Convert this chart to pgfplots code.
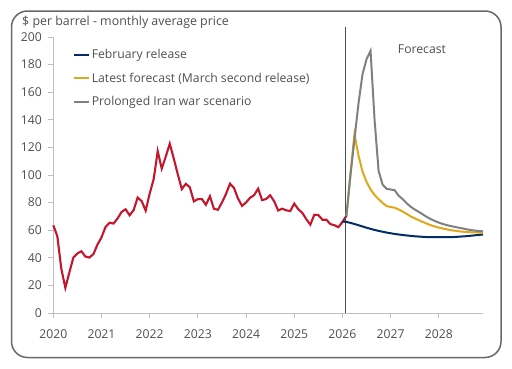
\documentclass[border=0pt]{standalone}
\usepackage{pgfplots}
\pgfplotsset{compat=1.18}
\usepackage{fontspec}
\setmainfont{Open Sans}
\definecolor{histred}{RGB}{196,22,44}
\definecolor{febblue}{RGB}{0,46,100}
\definecolor{lateyellow}{RGB}{222,168,24}
\definecolor{scengray}{RGB}{128,128,128}
\definecolor{txtgray}{RGB}{80,80,80}
\definecolor{axgray}{RGB}{191,191,191}
\definecolor{framegray}{RGB}{105,105,105}
\definecolor{vlinec}{RGB}{70,78,88}
\begin{document}
\begin{tikzpicture}[x=1pt,y=1pt]
\fill[white] (0,0) rectangle (512,368);
\draw[framegray, line width=1.5pt, rounded corners=16pt] (11.5,10.5) rectangle (501,357);
\node[anchor=west, font=\fontsize{12.4}{14}\selectfont, text=txtgray, inner sep=0pt] at (22,346) {\$ per barrel - monthly average price};
\begin{axis}[
  at={(53.3pt,55pt)}, anchor=south west, scale only axis,
  width=429.7pt, height=276pt,
  xmin=0, xmax=107, ymin=0, ymax=200,
  xtick={0,12,...,96},
  xticklabels={2020,2021,2022,2023,2024,2025,2026,2027,2028},
  ytick={0,20,...,200},
  axis x line*=bottom, axis y line*=left,
  axis line style={axgray, line width=1pt},
  tick style={axgray, line width=1pt},
  major tick length=5pt, tick align=outside,
  tick label style={font=\fontsize{12.2}{14}\selectfont, text=txtgray},
  xticklabel style={yshift=-8pt},
  yticklabel style={xshift=-3pt},
  /pgf/number format/assume math mode=true,
  clip=false,
  legend cell align=left,
  legend style={at={(axis description cs:0.045,0.962)}, anchor=north west,
    draw=none, fill=none, font=\fontsize{12.2}{14}\selectfont, text=txtgray,
    row sep=8.5pt, inner sep=0pt},
  legend image code/.code={\draw[#1, line width=2pt] (0pt,0pt) -- (15pt,0pt);},
]
\addplot[histred, line width=2.1pt, forget plot] coordinates {
(0,63.6)(1,55.7)(2,32.0)(3,18.2)(4,29.4)(5,40.3)(6,43.2)(7,44.7)(8,40.9)(9,40.2)(10,42.7)(11,49.6)
(12,54.8)(13,62.3)(14,65.4)(15,64.8)(16,68.5)(17,73.2)(18,75.2)(19,70.8)(20,74.5)(21,83.7)(22,81.1)(23,74.2)
(24,86.5)(25,97.1)(26,117.3)(27,104.6)(28,113.3)(29,122.7)(30,111.9)(31,100.5)(32,89.8)(33,93.6)(34,91.1)(35,80.9)
(36,82.5)(37,82.6)(38,78.4)(39,84.6)(40,75.5)(41,74.8)(42,80.1)(43,86.2)(44,93.7)(45,90.6)(46,82.9)(47,77.6)
(48,80.1)(49,83.5)(50,85.4)(51,90.1)(52,81.8)(53,82.6)(54,85.3)(55,80.9)(56,74.3)(57,75.6)(58,74.4)(59,73.9)
(60,79.3)(61,75.2)(62,72.6)(63,68.0)(64,64.0)(65,71.2)(66,71.0)(67,67.6)(68,67.6)(69,64.4)(70,63.6)(71,62.2)
(72,66.0)(73,70.5)
};
\draw[vlinec, line width=1.3pt] (axis cs:72.8,0) -- (axis cs:72.8,207.5);
\addplot[febblue, line width=2pt] coordinates {
(72,66.3)(73,66.0)(74,65.3)(75,64.5)(76,63.6)(77,62.7)(78,61.8)(79,61.0)(80,60.2)(81,59.5)(82,58.9)(83,58.3)
(84,57.8)(85,57.3)(86,56.9)(87,56.5)(88,56.2)(89,55.9)(90,55.6)(91,55.4)(92,55.2)(93,55.0)(94,55.0)(95,54.9)
(96,54.9)(97,54.9)(98,54.9)(99,55.0)(100,55.1)(101,55.3)(102,55.5)(103,55.7)(104,56.0)(105,56.3)(106,56.6)(107,56.9)
};
\addlegendentry{February release}
\addplot[lateyellow, line width=2pt] coordinates {
(73,70.5)(74,101)(75,129.5)(76,114)(77,102.5)(78,95)(79,89.5)(80,85.5)(81,82.5)(82,79.8)(83,77.5)
(84,76.8)(85,76.3)(86,75.0)(87,73.5)(88,71.8)(89,70.0)(90,68.6)(91,67.3)(92,66.0)(93,64.8)(94,63.6)(95,62.7)
(96,61.9)(97,61.2)(98,60.6)(99,60.0)(100,59.6)(101,59.2)(102,58.9)(103,58.7)(104,58.5)(105,58.4)(106,58.3)(107,58.2)
};
\addlegendentry{Latest forecast (March second release)}
\addplot[scengray, line width=2pt] coordinates {
(73,70.5)(74,100)(75,126)(76,152)(77,173)(78,184)(79,190)(80,140)(81,103)(82,93)(83,90)
(84,89.5)(85,89)(86,85)(87,82.5)(88,79.5)(89,77)(90,75)(91,73.3)(92,71.5)(93,69.6)(94,68)(95,66.7)
(96,65.5)(97,64.5)(98,63.7)(99,63.0)(100,62.4)(101,61.8)(102,61.2)(103,60.6)(104,60.1)(105,59.7)(106,59.4)(107,59.2)
};
\addlegendentry{Prolonged Iran war scenario}
\node[font=\fontsize{12.2}{14}\selectfont, text=txtgray] at (axis cs:91.8,191.3) {Forecast};
\end{axis}
\end{tikzpicture}
\end{document}
